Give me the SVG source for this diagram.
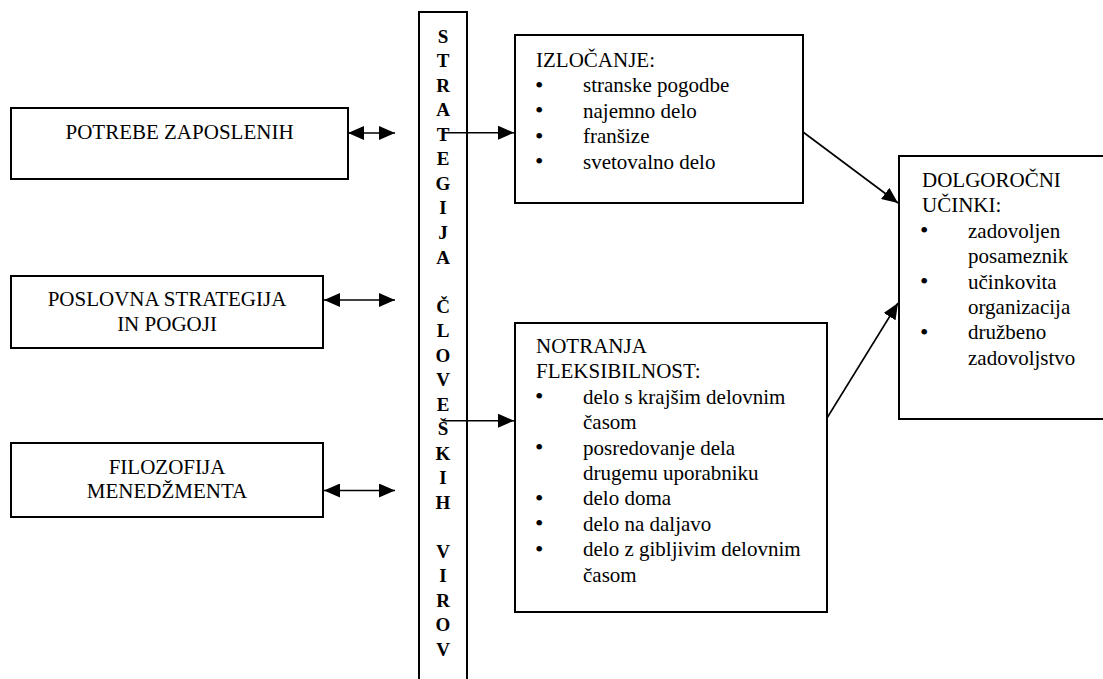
<svg xmlns="http://www.w3.org/2000/svg" width="1103" height="679" viewBox="0 0 1103 679">
<style>
.box{fill:#fff;stroke:#000;stroke-width:2}
text{font-family:'Liberation Serif','Times New Roman',Times,'DejaVu Serif',serif;fill:#000}
.t{font-size:21px}
.c{text-anchor:middle}
.b{font-size:24px}
.v{font-size:19px;font-weight:bold;text-anchor:middle}
.ln{stroke:#000;stroke-width:1.6;fill:none}
</style>
<defs>
<marker id="ah" markerUnits="userSpaceOnUse" markerWidth="16" markerHeight="14" refX="16" refY="7" orient="auto-start-reverse">
<path d="M0,0 L16,7 L0,14 z" fill="#000"/>
</marker>
</defs>
<g id="potrebe">
<rect class="box" x="11" y="108" width="337" height="71"/>
<text class="t c" x="179.5" y="139">POTREBE ZAPOSLENIH</text>
</g>
<g id="poslovna">
<rect class="box" x="11" y="276" width="312" height="72"/>
<text class="t c" x="167" y="306">POSLOVNA STRATEGIJA</text>
<text class="t c" x="167" y="331">IN POGOJI</text>
</g>
<g id="filozofija">
<rect class="box" x="11" y="443" width="312" height="74"/>
<text class="t c" x="167" y="474">FILOZOFIJA</text>
<text class="t c" x="167" y="498">MENEDŽMENTA</text>
</g>
<g id="strategija">
<rect class="box" x="419" y="12" width="48" height="680"/>
<text class="v" x="443" y="42.7">S</text>
<text class="v" x="443" y="67.2">T</text>
<text class="v" x="443" y="91.8">R</text>
<text class="v" x="443" y="116.3">A</text>
<text class="v" x="443" y="140.8">T</text>
<text class="v" x="443" y="165.4">E</text>
<text class="v" x="443" y="189.9">G</text>
<text class="v" x="443" y="214.4">I</text>
<text class="v" x="443" y="238.9">J</text>
<text class="v" x="443" y="263.5">A</text>
<text class="v" x="443" y="312.5">Č</text>
<text class="v" x="443" y="337.1">L</text>
<text class="v" x="443" y="361.6">O</text>
<text class="v" x="443" y="386.1">V</text>
<text class="v" x="443" y="410.6">E</text>
<text class="v" x="443" y="435.2">Š</text>
<text class="v" x="443" y="459.7">K</text>
<text class="v" x="443" y="484.2">I</text>
<text class="v" x="443" y="508.7">H</text>
<text class="v" x="443" y="557.8">V</text>
<text class="v" x="443" y="582.3">I</text>
<text class="v" x="443" y="606.9">R</text>
<text class="v" x="443" y="631.4">O</text>
<text class="v" x="443" y="655.9">V</text>
</g>
<g id="izlocanje">
<rect class="box" x="515" y="35" width="288" height="168"/>
<text class="t" x="536" y="67">IZLOČANJE:</text>
<text class="b" x="535" y="93">•</text><text class="t" x="583" y="92.4">stranske pogodbe</text>
<text class="b" x="535" y="118.4">•</text><text class="t" x="583" y="117.8">najemno delo</text>
<text class="b" x="535" y="143.8">•</text><text class="t" x="583" y="143.2">franšize</text>
<text class="b" x="535" y="169.2">•</text><text class="t" x="583" y="168.6">svetovalno delo</text>
</g>
<g id="notranja">
<rect class="box" x="515" y="323" width="312" height="289"/>
<text class="t" x="536" y="353">NOTRANJA</text>
<text class="t" x="536" y="378.4">FLEKSIBILNOST:</text>
<text class="b" x="535" y="404.4">•</text><text class="t" x="583" y="403.8">delo s krajšim delovnim</text>
<text class="t" x="583" y="429.2">časom</text>
<text class="b" x="535" y="455.2">•</text><text class="t" x="583" y="454.6">posredovanje dela</text>
<text class="t" x="583" y="480">drugemu uporabniku</text>
<text class="b" x="535" y="506">•</text><text class="t" x="583" y="505.4">delo doma</text>
<text class="b" x="535" y="531.4">•</text><text class="t" x="583" y="530.8">delo na daljavo</text>
<text class="b" x="535" y="556.8">•</text><text class="t" x="583" y="556.2">delo z gibljivim delovnim</text>
<text class="t" x="583" y="581.6">časom</text>
</g>
<g id="dolgorocni">
<rect class="box" x="899" y="156" width="215" height="263"/>
<text class="t" x="922" y="187">DOLGOROČNI</text>
<text class="t" x="922" y="212.4">UČINKI:</text>
<text class="b" x="920" y="238.4">•</text><text class="t" x="968" y="237.8">zadovoljen</text>
<text class="t" x="968" y="263.2">posameznik</text>
<text class="b" x="920" y="289.2">•</text><text class="t" x="968" y="288.6">učinkovita</text>
<text class="t" x="968" y="314">organizacija</text>
<text class="b" x="920" y="340">•</text><text class="t" x="968" y="339.4">družbeno</text>
<text class="t" x="968" y="364.8">zadovoljstvo</text>
</g>
<g id="connectors">
<line class="ln" x1="348" y1="133" x2="395" y2="133" marker-start="url(#ah)" marker-end="url(#ah)"/>
<line class="ln" x1="324" y1="300" x2="395" y2="300" marker-start="url(#ah)" marker-end="url(#ah)"/>
<line class="ln" x1="324" y1="490.5" x2="395" y2="490.5" marker-start="url(#ah)" marker-end="url(#ah)"/>
<line class="ln" x1="443" y1="132.7" x2="514" y2="132.7" marker-end="url(#ah)"/>
<line class="ln" x1="443" y1="420.7" x2="514" y2="420.7" marker-end="url(#ah)"/>
<line class="ln" x1="803" y1="132" x2="898" y2="203" marker-end="url(#ah)"/>
<line class="ln" x1="827" y1="418" x2="898" y2="303" marker-end="url(#ah)"/>
</g>
</svg>
